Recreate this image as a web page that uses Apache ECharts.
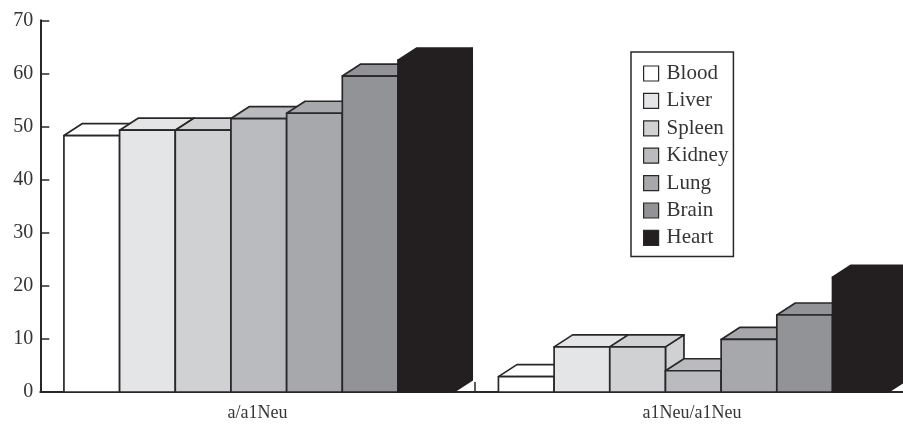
<!DOCTYPE html>
<html>
<head>
<meta charset="utf-8">
<style>html,body{margin:0;padding:0;background:#fff}#chart{width:903px;height:426px}</style>
<script src="https://cdn.jsdelivr.net/npm/echarts@6/dist/echarts.min.js"></script>
</head>
<body>
<div id="chart"></div>
<script>
// Expression ratios per tissue, one list per tissue across the two constructs
const categories = ['a/a1Neu', 'a1Neu/a1Neu'];
const tissues = ['Blood', 'Liver', 'Spleen', 'Kidney', 'Lung', 'Brain', 'Heart'];
const blood = [48.3, 2.9];
const liver = [49.3, 8.5];
const spleen = [49.3, 8.5];
const kidney = [51.5, 4];
const lung = [52.5, 9.9];
const brain = [59.5, 14.5];
const heart = [62.5, 21.6];
const tissueValues = [blood, liver, spleen, kidney, lung, brain, heart];
const tissueColors = ['#ffffff', '#e4e5e7', '#d0d1d3', '#babbbf', '#a7a8ac', '#929397', '#231f20'];

const INK = '#2a2728';
const TEXT = '#373435';
const FONT = '"Liberation Serif", "Times New Roman", serif';
const DEPTH_X = 18.5;
const DEPTH_Y = 12;
const BAND_FILL = 0.897; // share of a category band taken by its seven bars
const GROUP_SHIFT = 1.25; // the bar groups sit slightly right of the band centres

// Pseudo-3D column: front face, then the top and right faces behind it
function boxRenderer(seriesIndex, color) {
  return function (params, api) {
    const band = api.size([1, 0])[0];
    const barWidth = band * BAND_FILL / tissues.length;
    const centre = api.coord([api.value(0), 0]);
    const top = api.coord([api.value(0), api.value(1)])[1];
    const base = centre[1];
    const x0 = centre[0] + GROUP_SHIFT - band * BAND_FILL / 2 + seriesIndex * barWidth;
    const x1 = x0 + barWidth;
    const style = { fill: color, stroke: seriesIndex === 6 ? color : INK, lineWidth: 1.7, lineJoin: 'round' };
    return {
      type: 'group',
      children: [
        { type: 'polygon', shape: { points: [[x1, base], [x1 + DEPTH_X, base - DEPTH_Y], [x1 + DEPTH_X, top - DEPTH_Y], [x1, top]] }, style },
        { type: 'polygon', shape: { points: [[x0, top], [x0 + DEPTH_X, top - DEPTH_Y], [x1 + DEPTH_X, top - DEPTH_Y], [x1, top]] }, style },
        { type: 'rect', shape: { x: x0, y: top, width: barWidth, height: base - top }, style }
      ]
    };
  };
}

const chart = echarts.init(document.getElementById('chart'), null, { renderer: 'canvas' });
chart.setOption({
  animation: false,
  backgroundColor: '#fff',
  textStyle: { fontFamily: FONT },
  grid: { left: 40.3, top: 20.3, width: 869, height: 371.7, containLabel: false, outerBoundsMode: 'none' },
  legend: {
    orient: 'vertical',
    left: 631,
    top: 52,
    padding: [11, 5, 8, 12],
    itemWidth: 15,
    itemHeight: 15,
    itemGap: 6.4,
    icon: 'rect',
    selectedMode: false,
    backgroundColor: '#fff',
    borderColor: INK,
    borderWidth: 1.5,
    data: tissues,
    itemStyle: { borderColor: INK, borderWidth: 1.2 },
    textStyle: { fontFamily: FONT, fontSize: 21, color: TEXT, padding: [0, 0, 0, 3], height: 20, lineHeight: 20 }
  },
  xAxis: {
    type: 'category',
    data: categories,
    axisLine: { lineStyle: { color: INK, width: 2 } },
    axisTick: { show: true, interval: 0, inside: true, length: 10, lineStyle: { color: INK, width: 1.5 } },
    axisLabel: { interval: 0, fontFamily: FONT, fontSize: 18, color: TEXT, margin: 12 }
  },
  yAxis: {
    type: 'value',
    min: 0,
    max: 70,
    interval: 10,
    splitLine: { show: false },
    axisLine: { show: true, lineStyle: { color: INK, width: 2 } },
    axisTick: { show: true, inside: true, length: 9, lineStyle: { color: INK, width: 1.5 } },
    axisLabel: { fontFamily: FONT, fontSize: 20, color: TEXT, margin: 7 }
  },
  series: tissues.map((name, i) => ({
    name,
    type: 'custom',
    coordinateSystem: 'cartesian2d',
    clip: false,
    itemStyle: { color: tissueColors[i] },
    encode: { x: 0, y: 1 },
    data: tissueValues[i].map((v, c) => [c, v]),
    renderItem: boxRenderer(i, tissueColors[i])
  }))
});
</script>
</body>
</html>
